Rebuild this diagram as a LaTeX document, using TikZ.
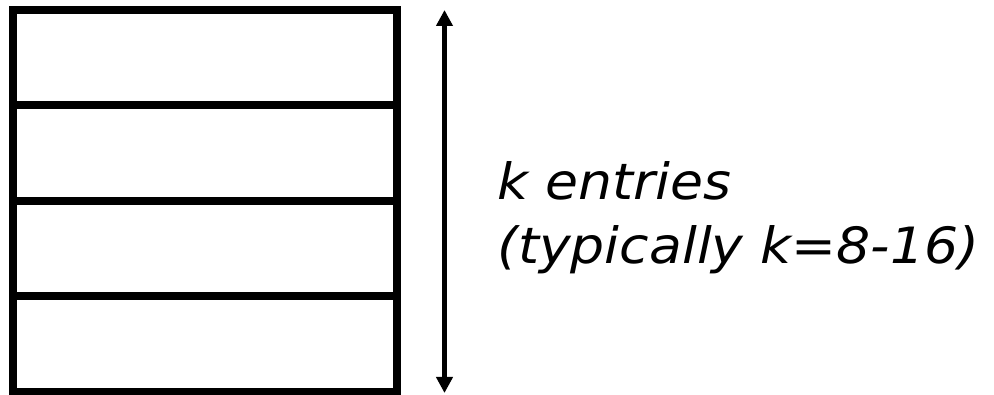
\documentclass[tikz,border=0pt]{standalone}
\usepackage{fontspec}
\setmainfont{DejaVu Sans}
\newfontfamily\lblfont[FakeStretch=1.072]{DejaVu Sans}
\usetikzlibrary{arrows.meta}
\begin{document}
\begin{tikzpicture}[x=1pt,y=1pt,
  cell/.style={draw=black,line width=8pt},
  span/.style={line width=4.5pt,{Triangle[length=16pt,width=16pt]}-{Triangle[length=16pt,width=16pt]}},
  lbl/.style={anchor=base west,inner sep=0pt,font=\lblfont\fontsize{50}{60}\selectfont\itshape}]
\useasboundingbox (0,0) rectangle (994,395);
\draw[cell] (13,3) rectangle (397,385);
\draw[cell] (13,98.5) -- (397,98.5);
\draw[cell] (13,194) -- (397,194);
\draw[cell] (13,289.5) -- (397,289.5);
\coordinate (top) at (444.5,385);
\coordinate (bot) at (444.5,2);
\draw[span] (top) -- (bot);
\node[lbl] (l1) at (497,195) {k entries};
\node[lbl] (l2) at (497,131) {(typically k=8-16)};
\end{tikzpicture}
\end{document}
